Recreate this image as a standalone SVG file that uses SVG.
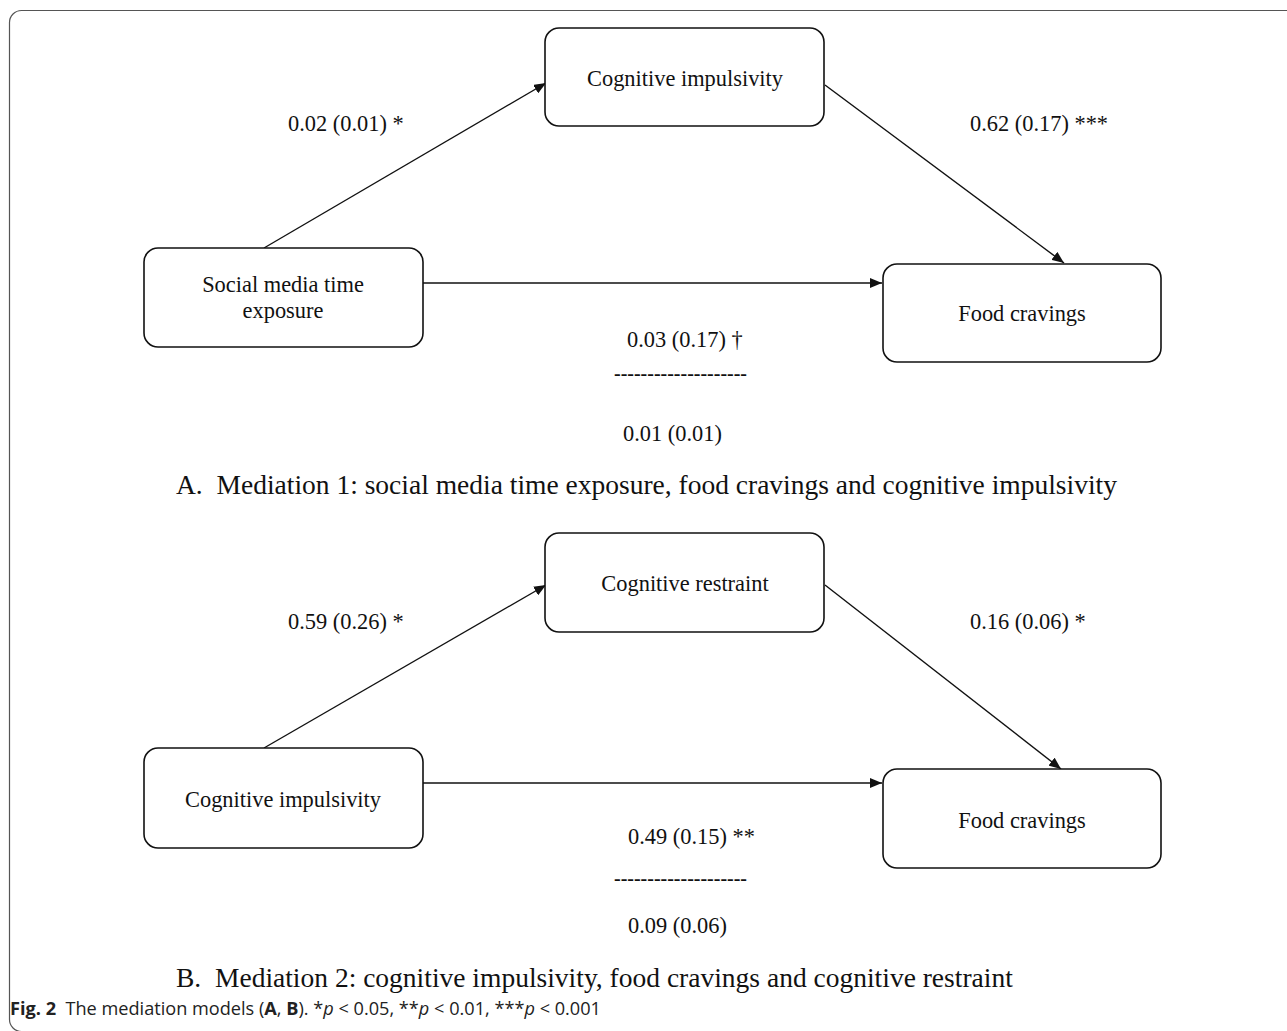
<svg xmlns="http://www.w3.org/2000/svg" width="1287" height="1031" viewBox="0 0 1287 1031">
<style>
.box{fill:#fff;stroke:#111;stroke-width:1.6}
.t{font-family:"Liberation Serif","Times New Roman",serif;font-size:22.4px;fill:#111;text-anchor:middle}
.lbl{font-family:"Liberation Serif","Times New Roman",serif;font-size:22.4px;fill:#111;text-anchor:start}
.cap{font-family:"Liberation Serif","Times New Roman",serif;font-size:27.5px;fill:#111}
.ln{stroke:#111;stroke-width:1.4;fill:none}
.fig{font-family:"Open Sans","Liberation Sans",sans-serif;font-size:18px;fill:#222}
</style>
<defs>
<marker id="ah" viewBox="0 0 12 10" refX="12" refY="5" markerWidth="12" markerHeight="10" markerUnits="userSpaceOnUse" orient="auto">
<path d="M0,0 L12,5 L0,10 z" fill="#111"/>
</marker>
</defs>
<rect width="1287" height="1031" fill="#fff"/>
<rect x="9.5" y="10.5" width="1300" height="1021" rx="12" fill="none" stroke="#555" stroke-width="1.2"/>

<g id="connectors">
<line class="ln" x1="264" y1="248" x2="546" y2="83" marker-end="url(#ah)"/>
<line class="ln" x1="825" y1="85" x2="1064" y2="263" marker-end="url(#ah)"/>
<line class="ln" x1="423" y1="283" x2="882" y2="283" marker-end="url(#ah)"/>
<line class="ln" x1="264" y1="748" x2="546" y2="585" marker-end="url(#ah)"/>
<line class="ln" x1="825" y1="585" x2="1061" y2="769" marker-end="url(#ah)"/>
<line class="ln" x1="423" y1="783" x2="882" y2="783" marker-end="url(#ah)"/>
</g>

<g id="nodeA_ci"><rect class="box" x="545" y="28" width="279" height="98" rx="14"/><text class="t" x="685" y="86">Cognitive impulsivity</text></g>
<g id="nodeA_sm"><rect class="box" x="144" y="248" width="279" height="99" rx="14"/><text class="t" x="283" y="292">Social media time</text><text class="t" x="283" y="318">exposure</text></g>
<g id="nodeA_fc"><rect class="box" x="883" y="264" width="278" height="98" rx="14"/><text class="t" x="1022" y="321">Food cravings</text></g>

<g id="labelsA">
<text class="lbl" x="288" y="131">0.02 (0.01) *</text>
<text class="lbl" x="970" y="131">0.62 (0.17) ***</text>
<text class="lbl" x="627" y="347">0.03 (0.17) †</text>
<text class="lbl" x="614" y="381" textLength="133" lengthAdjust="spacingAndGlyphs">--------------------</text>
<text class="lbl" x="623" y="441">0.01 (0.01)</text>
<text class="cap" x="176" y="494" xml:space="preserve">A.  Mediation 1: social media time exposure, food cravings and cognitive impulsivity</text>
</g>

<g id="nodeB_cr"><rect class="box" x="545" y="533" width="279" height="99" rx="14"/><text class="t" x="685" y="591">Cognitive restraint</text></g>
<g id="nodeB_ci"><rect class="box" x="144" y="748" width="279" height="100" rx="14"/><text class="t" x="283" y="807">Cognitive impulsivity</text></g>
<g id="nodeB_fc"><rect class="box" x="883" y="769" width="278" height="99" rx="14"/><text class="t" x="1022" y="828">Food cravings</text></g>

<g id="labelsB">
<text class="lbl" x="288" y="629">0.59 (0.26) *</text>
<text class="lbl" x="970" y="629">0.16 (0.06) *</text>
<text class="lbl" x="628" y="844">0.49 (0.15) **</text>
<text class="lbl" x="614" y="886" textLength="133" lengthAdjust="spacingAndGlyphs">--------------------</text>
<text class="lbl" x="628" y="933">0.09 (0.06)</text>
<text class="cap" x="176" y="987" xml:space="preserve">B.  Mediation 2: cognitive impulsivity, food cravings and cognitive restraint</text>
</g>

<text class="fig" x="10" y="1015" textLength="591" lengthAdjust="spacingAndGlyphs" xml:space="preserve"><tspan font-weight="bold">Fig. 2</tspan>  The mediation models (<tspan font-weight="bold">A</tspan>, <tspan font-weight="bold">B</tspan>). *<tspan font-style="italic">p</tspan> &lt; 0.05, **<tspan font-style="italic">p</tspan> &lt; 0.01, ***<tspan font-style="italic">p</tspan> &lt; 0.001</text>
</svg>
